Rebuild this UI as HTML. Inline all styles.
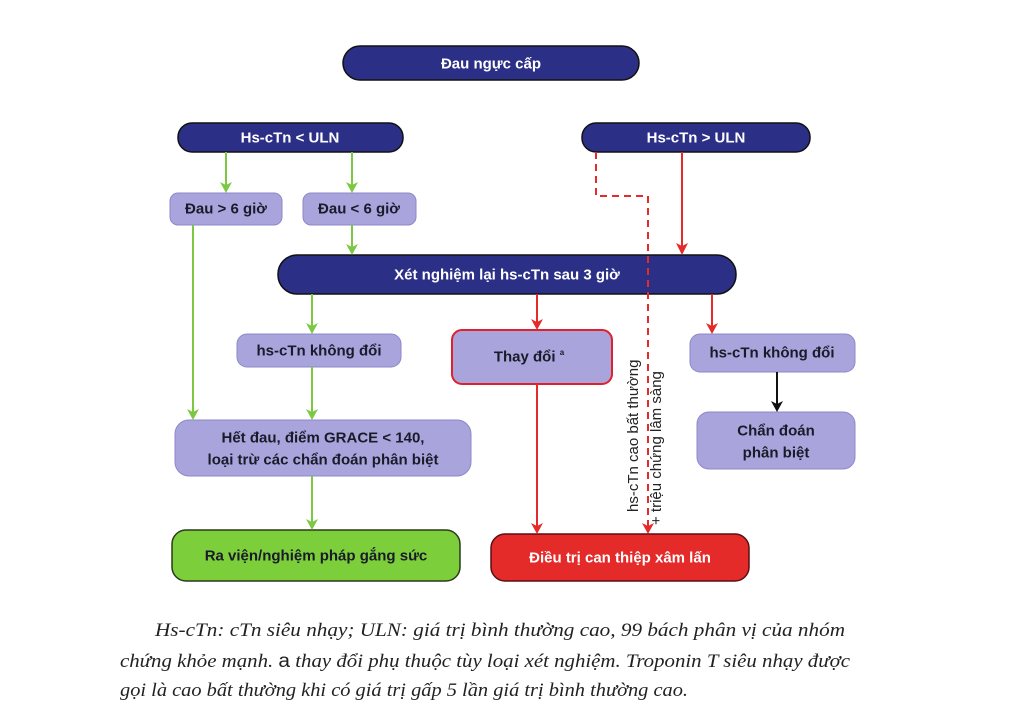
<!DOCTYPE html>
<html><head><meta charset="utf-8"><style>
html,body{margin:0;padding:0;background:#fff;}
svg{display:block}
.b{font-family:"Liberation Sans",sans-serif;font-weight:bold;font-size:15px;text-anchor:middle;dominant-baseline:central}
.w{fill:#fff}.k{fill:#1a1a2a}
.cap{font-family:"Liberation Serif",serif;font-style:italic;font-size:19px;fill:#222}
</style></head><body>
<svg width="1024" height="718" viewBox="0 0 1024 718" xmlns="http://www.w3.org/2000/svg">
<g fill="#2c2f86" stroke="#111" stroke-width="1.5">
<rect x="343" y="46" width="296" height="34" rx="17"/>
<rect x="178" y="123" width="225" height="29" rx="14"/>
<rect x="582" y="123" width="228" height="29" rx="14"/>
<rect x="278" y="255" width="458" height="39" rx="19"/>
</g>
<g fill="#a9a5dc" stroke="#8c88c8" stroke-width="1">
<rect x="170" y="193" width="112" height="32" rx="8"/>
<rect x="303" y="193" width="113" height="32" rx="8"/>
<rect x="237" y="334" width="164" height="33" rx="10"/>
<rect x="690" y="334" width="165" height="38" rx="10"/>
<rect x="697" y="412" width="158" height="57" rx="12"/>
<rect x="175" y="420" width="296" height="56" rx="14"/>
</g>
<rect x="452" y="330" width="160" height="54" rx="10" fill="#a9a5dc" stroke="#e0202a" stroke-width="2"/>
<rect x="172" y="530" width="288" height="51" rx="14" fill="#7ccf3a" stroke="#2a3a1a" stroke-width="1.5"/>
<rect x="491" y="534" width="258" height="47" rx="14" fill="#e52a2a" stroke="#5a1010" stroke-width="1.5"/>
<g stroke="#7dc843" stroke-width="2" fill="none">
<line x1="226" y1="152" x2="226" y2="186"/><line x1="352" y1="152" x2="352" y2="186"/>
<line x1="352" y1="225" x2="352" y2="248"/><line x1="193" y1="225" x2="193" y2="413"/>
<line x1="312" y1="294" x2="312" y2="327"/><line x1="312" y1="367" x2="312" y2="413"/>
<line x1="312" y1="476" x2="312" y2="523"/>
</g>
<g fill="#7dc843">
<path d="M220,182 L226,193 L232,182 L226,185z"/><path d="M346,182 L352,193 L358,182 L352,185z"/>
<path d="M346,244 L352,255 L358,244 L352,247z"/><path d="M187,409 L193,420 L199,409 L193,412z"/>
<path d="M306,323 L312,334 L318,323 L312,326z"/><path d="M306,409 L312,420 L318,409 L312,412z"/>
<path d="M306,519 L312,530 L318,519 L312,522z"/>
</g>
<g stroke="#e52a2a" stroke-width="2" fill="none">
<line x1="682" y1="152" x2="682" y2="248"/>
<line x1="537" y1="294" x2="537" y2="323"/><line x1="537" y1="384" x2="537" y2="527"/>
<line x1="712" y1="294" x2="712" y2="327"/>
<path d="M596,152 V196 H648 V527" stroke-dasharray="7,5"/>
</g>
<g fill="#e52a2a">
<path d="M676,243 L682,255 L688,243 L682,246z"/><path d="M531,319 L537,330 L543,319 L537,322z"/>
<path d="M531,523 L537,534 L543,523 L537,526z"/><path d="M706,323 L712,334 L718,323 L712,326z"/>
<path d="M642,523 L648,534 L654,523 L648,526z"/>
</g>
<line x1="777" y1="372" x2="777" y2="405" stroke="#111" stroke-width="2"/>
<path d="M771,401 L777,412 L783,401 L777,404z" fill="#111"/>
<text class="b w" x="491" y="64">Đau ngực cấp</text>
<text class="b w" x="290" y="138">Hs-cTn &lt; ULN</text>
<text class="b w" x="696" y="138">Hs-cTn &gt; ULN</text>
<text class="b k" x="226" y="209">Đau &gt; 6 giờ</text>
<text class="b k" x="359" y="209">Đau &lt; 6 giờ</text>
<text class="b w" x="507" y="275">Xét nghiệm lại hs-cTn sau 3 giờ</text>
<text class="b k" x="319" y="351">hs-cTn không đổi</text>
<text class="b k" x="529" y="357">Thay đổi <tspan font-size="8" dy="-5">a</tspan></text>
<text class="b k" x="772" y="353">hs-cTn không đổi</text>
<text class="b k" x="776" y="431">Chẩn đoán</text>
<text class="b k" x="776" y="453">phân biệt</text>
<text class="b k" x="323" y="438">Hết đau, điểm GRACE &lt; 140,</text>
<text class="b k" x="323" y="460">loại trừ các chẩn đoán phân biệt</text>
<text class="b k" x="316" y="556">Ra viện/nghiệm pháp gắng sức</text>
<text class="b w" x="620" y="558">Điều trị can thiệp xâm lấn</text>
<text font-family="Liberation Sans,sans-serif" font-size="15" fill="#222" transform="translate(638,512) rotate(-90)">hs-cTn cao bất thường</text>
<text font-family="Liberation Sans,sans-serif" font-size="15" fill="#222" transform="translate(661,525) rotate(-90)">+ triệu chứng lâm sàng</text>
<text class="cap" x="155" y="636" textLength="690" lengthAdjust="spacingAndGlyphs">Hs-cTn: cTn siêu nhạy; ULN: giá trị bình thường cao, 99 bách phân vị của nhóm</text>
<text class="cap" x="120" y="667" textLength="730" lengthAdjust="spacingAndGlyphs">chứng khỏe mạnh. <tspan font-style="normal" font-family="Liberation Sans,sans-serif">a</tspan> thay đổi phụ thuộc tùy loại xét nghiệm. Troponin T siêu nhạy được</text>
<text class="cap" x="120" y="696" textLength="568" lengthAdjust="spacingAndGlyphs">gọi là cao bất thường khi có giá trị gấp 5 lần giá trị bình thường cao.</text>
</svg>
</body></html>
